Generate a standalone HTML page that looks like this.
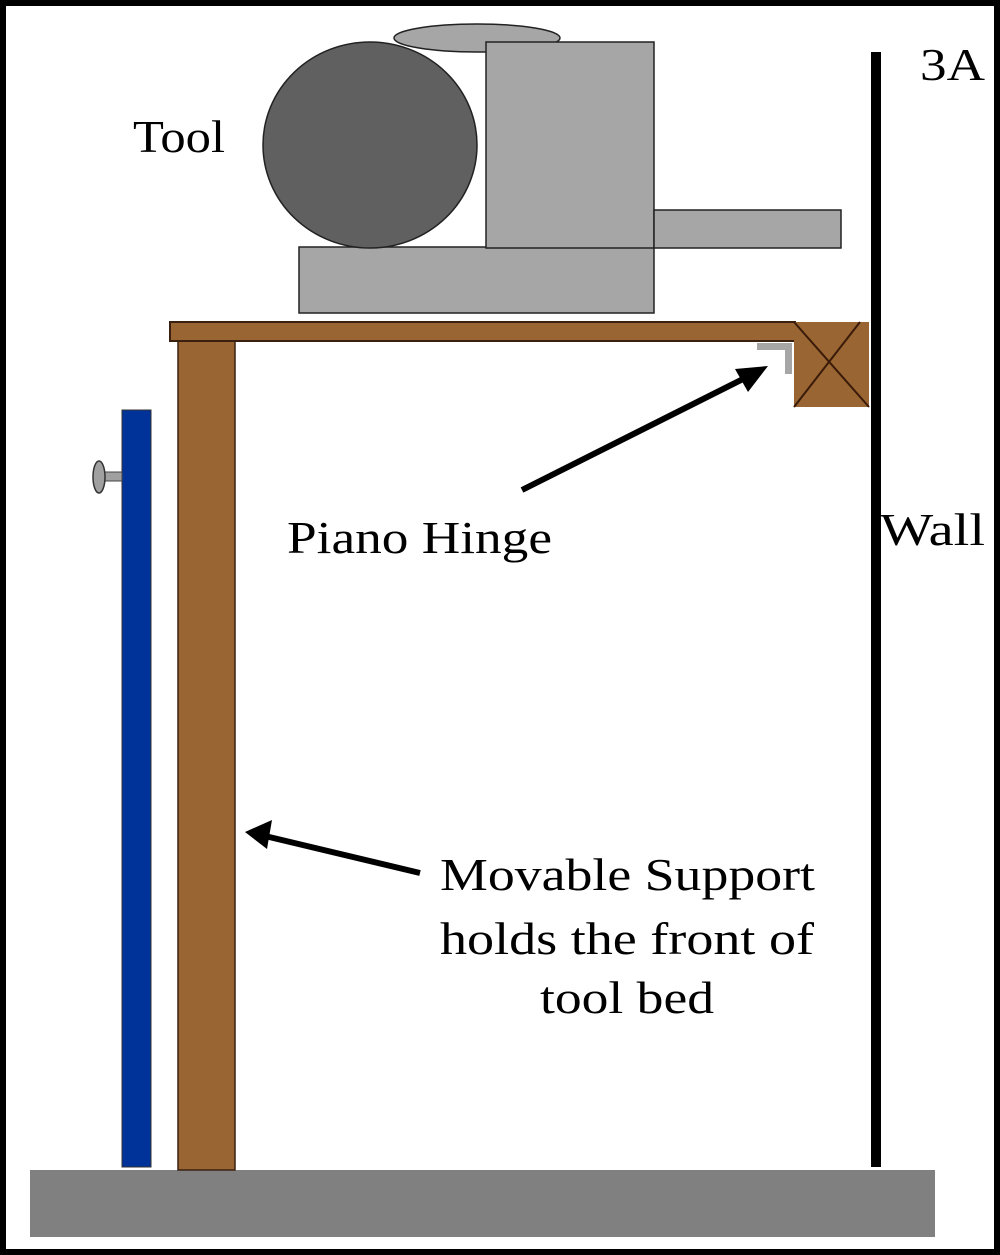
<!DOCTYPE html>
<html><head><meta charset="utf-8"><style>
html,body{margin:0;padding:0;background:#fff;}
svg{display:block;}
text{font-family:"Liberation Serif",serif;font-size:46px;fill:#000;}
</style></head><body>
<svg width="1000" height="1255" viewBox="0 0 1000 1255" xmlns="http://www.w3.org/2000/svg">
<rect x="0" y="0" width="1000" height="1255" fill="#fff"/>
<rect x="3" y="3" width="994" height="1249" fill="none" stroke="#000" stroke-width="6"/>
<rect x="30" y="1170" width="905" height="67" fill="#808080"/>
<rect x="871" y="52" width="10" height="1115" fill="#000"/>
<rect x="122" y="410" width="29" height="757" fill="#003399" stroke="#333" stroke-width="1"/>
<rect x="104" y="472" width="18" height="9" fill="#a0a0a0" stroke="#444" stroke-width="1"/>
<ellipse cx="99" cy="477" rx="6" ry="16" fill="#a0a0a0" stroke="#333" stroke-width="1.5"/>
<rect x="178" y="340" width="57" height="830" fill="#996633" stroke="#3a2010" stroke-width="1.5"/>
<rect x="170" y="322" width="625" height="19" fill="#996633" stroke="#3a2010" stroke-width="2"/>
<rect x="794" y="322" width="75" height="85" fill="#996633"/>
<line x1="794" y1="322" x2="869" y2="407" stroke="#3a1a08" stroke-width="2"/>
<line x1="860" y1="322" x2="794" y2="407" stroke="#3a1a08" stroke-width="2"/>
<path d="M757 343 H792 V374 H785 V350 H757 Z" fill="#a6a6a6"/>
<ellipse cx="477" cy="38" rx="83" ry="14" fill="#a6a6a6" stroke="#222" stroke-width="1.5"/>
<rect x="299" y="247" width="355" height="66" fill="#a6a6a6" stroke="#222" stroke-width="1.5"/>
<ellipse cx="370" cy="145" rx="107" ry="103" fill="#606060" stroke="#222" stroke-width="1.5"/>
<rect x="486" y="42" width="168" height="206" fill="#a6a6a6" stroke="#222" stroke-width="1.5"/>
<rect x="654" y="210" width="187" height="38" fill="#a6a6a6" stroke="#222" stroke-width="1.5"/>
<line x1="522" y1="490" x2="745" y2="378" stroke="#000" stroke-width="6"/>
<polygon points="768,366 735,369 748,392" fill="#000"/>
<line x1="420" y1="873" x2="265" y2="836" stroke="#000" stroke-width="6"/>
<polygon points="245,832 272,820 267,849" fill="#000"/>
<text x="133" y="152" textLength="92" lengthAdjust="spacingAndGlyphs">Tool</text>
<text x="920" y="80" textLength="65" lengthAdjust="spacingAndGlyphs">3A</text>
<text x="880" y="545" textLength="105" lengthAdjust="spacingAndGlyphs">Wall</text>
<text x="287" y="553" textLength="265" lengthAdjust="spacingAndGlyphs">Piano Hinge</text>
<text x="440" y="890" textLength="375" lengthAdjust="spacingAndGlyphs">Movable Support</text>
<text x="440" y="954" textLength="374" lengthAdjust="spacingAndGlyphs">holds the front of</text>
<text x="540" y="1013" textLength="174" lengthAdjust="spacingAndGlyphs">tool bed</text>
</svg>
</body></html>
